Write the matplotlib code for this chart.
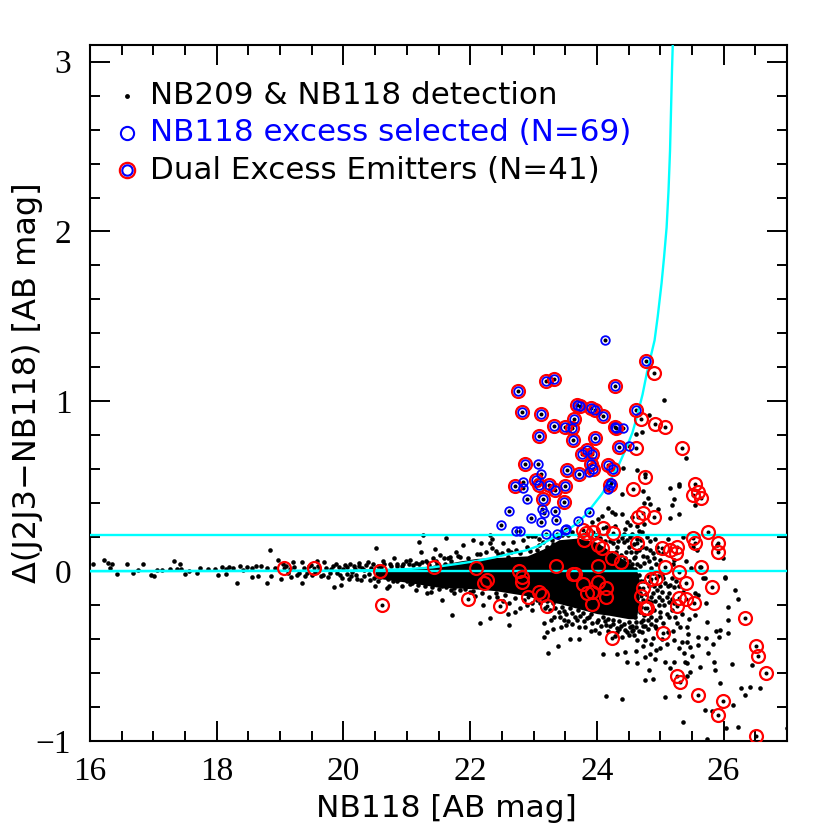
#!/usr/bin/env python3
"""NB118 excess vs NB118 magnitude, values read off the figure."""
import matplotlib
matplotlib.use('Agg')
import matplotlib.pyplot as plt
from matplotlib.ticker import MultipleLocator
import numpy as np

# NB118 excess selected, also NB209 excess (red + blue)
dual = [
    (24.78, 1.235), (24.29, 1.092), (23.32, 1.129), (23.20, 1.117), (22.75, 1.062), (22.82, 0.935),
    (23.12, 0.925), (24.62, 0.951), (23.69, 0.978), (23.73, 0.970), (23.90, 0.960), (23.97, 0.947),
    (24.10, 0.911), (23.64, 0.898), (23.32, 0.854), (23.50, 0.847), (23.60, 0.843), (24.29, 0.849),
    (24.30, 0.845), (23.09, 0.796), (23.97, 0.786), (23.63, 0.770), (24.35, 0.729), (23.85, 0.715),
    (23.77, 0.692), (23.93, 0.690), (23.91, 0.633), (22.86, 0.633), (23.53, 0.596), (23.71, 0.574),
    (23.94, 0.600), (24.18, 0.623), (24.25, 0.603), (24.21, 0.505), (23.04, 0.535), (22.71, 0.500),
    (23.25, 0.505), (23.34, 0.478), (23.50, 0.501), (23.08, 0.509), (23.15, 0.425), (23.48, 0.407),
]

# NB118 excess selected only (blue)
blue_only = [
    (24.12, 1.360), (24.41, 0.841), (24.50, 0.735), (23.07, 0.631), (23.11, 0.572), (22.83, 0.527),
    (22.83, 0.490), (24.23, 0.519), (24.17, 0.486), (22.89, 0.425), (23.88, 0.584), (22.61, 0.356),
    (23.14, 0.368), (23.17, 0.343), (23.34, 0.352), (23.88, 0.350), (22.96, 0.313), (23.12, 0.288),
    (23.36, 0.303), (23.70, 0.298), (22.48, 0.270), (22.73, 0.235), (22.79, 0.235), (23.19, 0.217),
    (23.37, 0.221), (23.50, 0.241), (23.52, 0.247),
]

# NB209 excess only (red)
red_only = [
    (24.90, 1.168), (24.69, 0.894), (24.91, 0.864), (25.08, 0.851), (24.61, 0.727), (25.34, 0.725),
    (24.76, 0.554), (24.57, 0.484), (25.55, 0.515), (25.52, 0.447), (25.60, 0.466), (25.64, 0.433),
    (24.65, 0.316), (24.73, 0.340), (24.90, 0.320), (23.78, 0.242), (24.10, 0.257), (23.94, 0.228),
    (24.26, 0.222), (23.83, 0.222), (23.79, 0.183), (24.01, 0.153), (24.08, 0.138), (24.63, 0.163),
    (25.02, 0.138), (25.15, 0.124), (25.26, 0.143), (25.25, 0.104), (25.51, 0.193), (25.55, 0.163),
    (25.76, 0.228), (25.91, 0.163), (25.91, 0.110), (25.64, 0.026), (25.08, 0.026), (25.29, -0.007),
    (25.41, -0.072), (25.81, -0.092), (24.24, 0.075), (24.38, 0.055), (24.01, 0.032), (23.35, 0.032),
    (22.09, 0.018), (22.77, 0.000), (23.63, -0.017), (23.65, -0.017), (22.81, -0.037), (22.81, -0.066),
    (22.26, -0.053), (22.22, -0.068), (24.01, -0.066), (23.78, -0.076), (24.15, -0.102), (23.93, -0.121),
    (23.85, -0.131), (24.15, -0.151), (23.92, -0.194), (23.09, -0.125), (23.14, -0.141), (22.91, -0.151),
    (23.22, -0.206), (22.47, -0.206), (21.97, -0.162), (24.94, -0.043), (24.86, -0.049), (24.73, -0.102),
    (24.70, -0.145), (24.79, -0.219), (24.76, -0.219), (25.30, -0.160), (25.41, -0.164), (25.27, -0.206),
    (25.53, -0.190), (25.04, -0.362), (24.24, -0.392), (26.34, -0.278), (26.51, -0.441), (26.55, -0.500),
    (26.67, -0.600), (25.26, -0.615), (25.31, -0.653), (25.59, -0.731), (25.99, -0.762), (25.91, -0.847),
    (26.51, -0.970), (19.06, 0.020), (19.53, 0.020), (20.57, 0.002), (20.61, -0.202), (21.43, 0.026),
]

# black detections, by region of the plot
dots_tail = [
    (16.04, .045), (16.22, .065), (16.29, .050), (16.34, .045), (16.31, .016), (16.42, -.017), (16.59, .045),
    (16.68, -.010), (16.76, .006), (16.84, .042), (16.97, -.025), (17.01, -.027), (17.06, .006), (17.13, .006),
    (17.27, .012), (17.32, .059), (17.42, .045), (17.37, .012), (17.44, .010), (17.50, -.019), (17.57, .002),
    (17.69, -.010), (17.74, .016), (17.87, .010), (17.97, .010), (18.02, -.025), (18.08, .026), (18.15, -.017),
    (18.15, .010), (18.20, .022), (18.26, .016), (18.32, -.068), (18.36, .032), (18.42, .008), (18.47, .026),
    (18.55, .016), (18.55, -.037), (18.62, .028), (18.65, -.029), (18.70, .030), (18.79, .016), (18.79, -.068),
    (18.84, .124), (18.86, -.029), (18.92, .020), (18.97, .065), (19.01, -.049), (19.05, .045), (19.12, -.012),
    (19.18, -.033), (19.21, .055), (19.26, -.020), (19.34, -.068), (19.34, .055), (19.40, -.030), (19.45, .030),
    (19.50, -.025), (19.58, .060), (19.62, .006), (19.68, -.020), (19.70, .055), (19.75, -.035), (19.80, .010),
    (19.85, -.095), (19.88, .040), (19.95, -.020), (19.96, -.080), (20.02, .035), (20.05, -.015), (20.10, .045),
    (20.12, -.030), (20.18, .015), (20.22, -.045), (20.25, .050), (20.30, .020), (20.33, -.030), (20.38, .055),
    (20.42, -.050), (20.46, .045), (20.52, .135), (20.50, -.085), (20.55, -.055), (20.62, .060), (20.68, -.100),
    (20.72, -.085), (20.80, .080), (20.85, .045), (20.85, -.060), (20.92, -.090), (20.98, .060), (21.05, .065),
    (21.05, -.075), (21.15, -.110), (21.20, .170), (21.22, .115), (21.25, .215), (21.30, .060), (21.32, -.130),
    (21.38, -.125), (21.42, .080), (21.45, .130), (21.52, .095), (21.55, -.090), (21.55, -.170), (21.62, .195),
    (21.65, .075), (21.70, -.110), (21.75, -.130), (21.78, .115), (21.72, -.260),
]

dots_top = [
    (25.06, 1.005), (24.82, .917), (24.71, .819), (24.62, .809), (25.40, .668), (24.41, .609), (24.64, .594),
    (24.76, .574), (25.16, .490), (25.29, .515), (25.29, .501), (24.39, .456), (24.73, .470), (24.81, .433),
    (25.21, .423), (25.18, .392), (24.74, .401), (24.83, .394), (25.55, .392), (24.97, .368), (24.17, .374),
    (24.24, .349), (24.29, .335), (24.40, .335), (24.08, .323), (25.30, .335), (25.16, .315), (24.47, .290),
    (24.55, .319), (24.52, .270), (24.02, .305), (23.92, .290), (24.63, .266), (24.75, .280), (24.71, .231),
    (24.44, .250), (24.29, .264), (24.15, .260), (22.31, .211), (22.05, .182), (21.89, .152), (22.17, .166),
    (22.34, .192), (22.32, .166), (22.34, .137), (22.52, .166), (22.59, .127), (22.68, .172), (22.84, .182),
    (22.91, .205), (22.97, .205), (23.02, .205), (23.08, .192), (22.59, .084), (22.44, .103), (22.16, .103),
    (21.84, .084), (21.97, .080), (22.26, .068), (22.73, .123), (22.89, .143), (23.08, .152), (23.15, .172),
    (23.29, .182), (24.42, .221), (24.52, .201), (24.63, .192), (24.79, .201), (24.42, .170), (24.50, .145),
    (24.58, .160), (24.71, .145), (24.84, .125), (24.95, .145), (24.79, .085), (24.58, .075), (25.00, .065),
    (25.21, .065), (25.36, .201), (25.90, .156), (25.99, .080), (25.63, .025), (25.71, -.038), (26.02, -.038),
    (25.52, .145), (25.58, .125), (24.46, .110), (24.55, .045), (24.62, .110), (24.68, .030), (24.75, .050),
    (24.85, .020), (24.90, .075), (25.05, .105), (25.12, .190), (25.20, .040), (25.40, .060), (25.48, .020),
    (23.45, .215), (23.60, .230), (23.72, .215), (23.90, .195), (24.05, .195), (24.20, .175), (24.32, .140),
]

dots_low = [
    (26.02, -.037), (26.18, -.111), (26.23, -.162), (26.07, -.213), (26.07, -.288), (26.07, -.366), (25.94, -.347),
    (25.88, -.350), (25.93, -.386), (25.84, -.429), (25.76, -.484), (25.85, -.537), (25.86, -.582), (26.13, -.547),
    (25.94, -.660), (26.28, -.690), (26.42, -.684), (26.57, -.686), (26.34, -.729), (26.44, -.553), (26.14, -.788),
    (25.71, -.817), (25.81, -.823), (25.36, -.888), (26.03, -.925), (26.22, -.915), (25.74, -.988), (27.00, -.925),
    (24.14, -.735), (24.39, -.755), (25.07, -.743), (25.29, -.733), (24.76, -.641), (24.89, -.637), (24.82, -.582),
    (25.63, -.566), (25.47, -.592), (25.42, -.543), (25.39, -.533), (25.07, -.533), (25.21, -.533), (25.15, -.572),
    (25.42, -.620), (24.47, -.533), (24.63, -.543), (24.92, -.519), (24.76, -.508), (24.32, -.490), (24.45, -.478),
    (24.10, -.488), (23.23, -.484), (23.38, -.439), (23.58, -.400), (23.72, -.400), (23.16, -.386), (23.22, -.357),
    (23.30, -.343), (23.44, -.327), (23.52, -.317), (23.55, -.292), (23.16, -.307), (22.62, -.317), (22.15, -.307),
    (22.32, -.278), (22.60, -.255), (22.20, -.200), (22.71, -.239), (22.79, -.215), (23.33, -.268), (23.42, -.272),
    (23.65, -.268), (23.81, -.327), (23.97, -.347), (23.84, -.278), (24.15, -.317), (24.31, -.337), (24.47, -.357),
    (24.58, -.376), (24.63, -.406), (24.71, -.357), (24.76, -.406), (24.89, -.396), (24.94, -.464), (25.00, -.455),
    (24.84, -.490), (25.26, -.307), (25.31, -.327), (25.21, -.406), (25.34, -.415), (25.42, -.415), (25.47, -.445),
    (25.60, -.386), (25.72, -.396), (25.60, -.435), (25.42, -.327), (25.73, -.298), (25.55, -.259), (25.13, -.268),
    (25.00, -.268), (25.05, -.307), (24.94, -.337), (25.18, -.229), (25.10, -.151), (25.21, -.096), (25.55, -.131),
    (25.60, -.141), (25.68, -.043), (25.72, -.190), (25.35, -.250), (25.45, -.280), (25.25, -.060), (25.18, -.040),
]

dots_edge = [
    (24.66, -.020), (24.70, -.060), (24.66, -.100), (24.72, -.170), (24.66, -.190), (24.68, -.240), (24.75, -.260),
    (24.80, -.290), (24.85, -.180), (24.90, -.230), (24.95, -.110), (25.00, -.090), (25.02, -.170), (24.82, -.090),
    (24.88, -.130), (24.98, -.200), (25.05, -.040), (25.12, -.090), (25.14, -.180), (24.80, -.030), (24.88, -.010),
    (24.62, -.300), (24.55, -.320), (24.50, -.300), (24.42, -.310), (24.35, -.295), (24.25, -.290), (24.18, -.280),
    (24.10, -.270), (24.02, -.285), (23.90, -.250), (23.78, -.245), (23.70, -.230), (23.58, -.215), (23.45, -.210),
    (23.30, -.190), (23.22, -.175), (23.05, -.170), (22.98, -.190), (22.85, -.170), (22.70, -.160), (22.55, -.140),
    (22.40, -.130), (22.30, -.150), (22.18, -.130), (22.05, -.115), (21.92, -.105), (21.84, -.110), (24.35, -.340),
    (24.62, -.330), (24.72, -.320), (24.55, -.350), (24.80, -.340), (24.60, -.270), (24.72, -.290), (24.85, -.270),
    (22.10, .100), (22.25, .110), (22.40, .120), (22.50, .105), (22.65, .110), (22.78, .105), (22.95, .120),
    (23.05, .125), (23.22, .145), (23.30, .160), (23.38, .200), (23.55, .215), (24.30, .110), (24.38, .095),
    (24.44, .075), (24.50, .060), (24.55, .015), (24.60, .010), (24.48, .020), (21.60, .045), (21.70, .060),
    (21.48, .045), (21.35, .035), (21.20, .040), (21.10, .035), (20.92, .030), (20.75, .030), (20.60, .025),
    (21.55, -.060), (21.42, -.070), (21.25, -.065), (21.12, -.050), (20.95, -.040), (20.80, -.035), (20.66, -.025),
]

# second pass over the parts that looked too thin
dots_fill_tail = [
    (19.10, .030), (19.15, .010), (19.22, .022), (19.30, -.008), (19.37, .018), (19.42, -.012), (19.48, .038),
    (19.55, -.006), (19.60, .032), (19.65, -.030), (19.72, .020), (19.78, -.012), (19.83, .030), (19.90, -.008),
    (19.93, .022), (19.98, -.040), (20.00, .012), (20.06, .025), (20.08, -.045), (20.14, -.006), (20.16, .028),
    (20.20, -.020), (20.24, .030), (20.28, -.050), (20.32, .006), (20.36, .035), (20.40, -.018), (20.44, .020),
    (20.48, -.040), (20.54, .030), (20.58, -.032), (20.64, .040), (20.70, -.048), (20.74, .045), (20.78, -.060),
    (20.84, .030), (20.88, -.045), (20.94, .045), (21.00, -.060), (21.04, .042), (21.08, -.068), (21.14, .050),
    (21.18, -.080), (21.24, .055), (21.28, -.090), (21.34, .050), (21.40, -.095), (21.46, .062), (21.50, -.105),
    (21.58, .080), (21.62, -.095), (21.68, .085), (21.74, -.100), (21.80, .090),
]

dots_fill_right = [
    (24.64, .040), (24.60, .085), (24.54, .110), (24.66, .125), (24.72, .090), (24.78, .135), (24.82, .060),
    (24.88, .105), (24.93, .040), (24.97, .115), (24.70, .185), (24.48, .185), (24.56, .220), (24.66, .235),
    (24.84, .175), (24.92, .190), (24.40, .195), (24.34, .180), (24.26, .165), (24.12, .180), (23.98, .210),
    (24.64, -.050), (24.68, -.130), (24.64, -.160), (24.70, -.210), (24.74, -.060), (24.77, -.135), (24.80, -.175),
    (24.83, -.240), (24.84, -.060), (24.86, -.150), (24.90, -.090), (24.92, -.175), (24.93, -.290), (24.96, -.030),
    (24.98, -.150), (25.00, -.240), (25.03, -.120), (25.06, -.200), (25.08, -.070), (25.10, -.250), (25.13, -.130),
    (25.16, -.080), (25.18, -.165), (25.22, -.190), (25.24, -.270), (25.03, -.020), (25.30, -.090), (25.36, -.120),
]

dots_fill_low = [
    (23.10, -.190), (23.18, -.215), (23.26, -.230), (23.34, -.215), (23.40, -.240), (23.48, -.235), (23.52, -.255),
    (23.60, -.245), (23.68, -.285), (23.74, -.265), (23.80, -.295), (23.88, -.270), (23.92, -.305), (24.00, -.300),
    (24.06, -.320), (24.12, -.295), (24.20, -.325), (24.26, -.310), (24.32, -.360), (24.38, -.325), (24.44, -.345),
    (24.52, -.330), (24.57, -.345), (24.66, -.350), (24.70, -.300), (24.76, -.320), (24.86, -.310), (24.92, -.325),
    (24.50, -.375), (24.40, -.385), (24.28, -.380), (24.18, -.350), (24.04, -.365), (23.90, -.355), (23.72, -.330),
    (23.60, -.310), (23.48, -.290), (23.28, -.290), (22.98, -.230), (22.90, -.200), (22.62, -.190), (22.52, -.175),
    (22.42, -.155), (22.08, -.145), (22.00, -.125), (24.85, -.430), (24.72, -.440), (24.62, -.470), (25.10, -.430),
    (25.12, -.360), (25.20, -.350), (25.02, -.400), (25.50, -.500), (25.38, -.480), (25.44, -.370), (25.30, -.450),
]

# solid black core of the cloud, where single points can't be told apart
core_x = [20.5, 21.0, 21.5, 21.84, 22.1, 22.4, 22.9, 23.15, 23.4, 23.7, 24.0, 24.2, 24.5, 24.62, 24.66]
core_hi = [.010, .016, .036, .060, .075, .080, .090, .130, .185, .195, .170, .120, .050, .010, -.030]
core_lo = [-.040, -.065, -.095, -.100, -.105, -.115, -.145, -.175, -.190, -.220, -.250, -.260, -.280, -.280, -.200]

# selection curve
curve_x = [16.0, 18.0, 20.0, 20.5, 21.0, 21.4, 21.84, 22.1, 22.37, 22.6, 22.89, 23.1, 23.37, 23.55, 23.68, 23.82,
           23.94, 24.08, 24.21, 24.35, 24.47, 24.56, 24.63, 24.72, 24.79, 24.86, 24.91, 24.96, 25.02, 25.06, 25.10, 25.13, 25.154, 25.185, 25.197]
curve_y = [0.0, .001, .003, .006, .012, .022, .045, .060, .080, .100, .123, .152, .211, .245, .280, .330,
           .388, .455, .535, .630, .731, .815, .907, 1.04, 1.17, 1.28, 1.359, 1.50, 1.694, 1.85, 2.024, 2.24, 2.476, 2.947, 3.1]
cut_lines = [0.0, 0.214]

legend_labels = ['NB209 & NB118 detection', 'NB118 excess selected (N=69)', 'Dual Excess Emitters (N=41)']
xticks = [16, 18, 20, 22, 24, 26]
yticks = [-1, 0, 1, 2, 3]


def xy(points):
    arr = np.array(points)
    return arr[:, 0], arr[:, 1]


fig = plt.figure(figsize=(8.3, 8.3), dpi=100)
ax = fig.add_axes([90 / 830, 89 / 830, 697 / 830, 696 / 830])
ax.set_xlim(16, 27)
ax.set_ylim(-1, 3.098)

ax.fill_between(core_x, core_lo, core_hi, color='black', lw=0, zorder=2)
for pts in [dots_tail, dots_top, dots_low, dots_edge, dots_fill_tail, dots_fill_right, dots_fill_low]:
    x, y = xy(pts)
    ax.plot(x, y, 'o', color='black', ms=3.3, mew=0, zorder=2)
for pts in [dual, blue_only, red_only]:
    x, y = xy(pts)
    ax.plot(x, y, 'o', color='black', ms=2.9, mew=0, zorder=2)

for level in cut_lines:
    ax.axhline(level, color='#00ffff', lw=1.7, zorder=3)
ax.plot(curve_x, curve_y, color='#00ffff', lw=1.7, zorder=3)

for pts in [red_only, dual]:
    x, y = xy(pts)
    ax.plot(x, y, 'o', mfc='none', mec='#ff0000', ms=9.3, mew=1.6, zorder=4)
for pts in [dual, blue_only]:
    x, y = xy(pts)
    ax.plot(x, y, 'o', mfc='none', mec='#0000ff', ms=6.2, mew=1.3, zorder=5)

# hand-made legend
ax.plot(16.58, 2.80, 'o', color='black', ms=3.5, mew=0)
ax.plot(16.58, 2.58, 'o', mfc='none', mec='#0000ff', ms=9.5, mew=1.5)
ax.plot(16.58, 2.36, 'o', mfc='none', mec='#ff0000', ms=11.0, mew=1.6)
ax.plot(16.58, 2.36, 'o', mfc='none', mec='#0000ff', ms=7.5, mew=1.5)
legend_y = [2.80, 2.58, 2.36]
legend_colors = ['black', '#0000ff', 'black']
for label, ly, col in zip(legend_labels, legend_y, legend_colors):
    ax.text(16.95, ly, label, color=col, fontsize=22.3, va='center', ha='left', family='DejaVu Sans')

ax.set_xticks(xticks)
ax.set_yticks(yticks)
ax.xaxis.set_minor_locator(MultipleLocator(0.5))
ax.yaxis.set_minor_locator(MultipleLocator(0.2))
ax.tick_params(which='major', direction='in', length=14.4, width=1.4, top=True, right=True,
               labelsize=24, labelfontfamily='Liberation Serif')
ax.tick_params(axis='x', which='major', pad=11)
ax.tick_params(axis='y', which='major', pad=13.5)
ax.tick_params(which='minor', direction='in', length=7.2, width=1.4, top=True, right=True)
ax.set_yticklabels(['\u22121', '0', '1', '2', '3'])
for spine in ax.spines.values():
    spine.set_linewidth(1.5)

fig.text(446 / 830, 1 - 808 / 830, 'NB118 [AB mag]', fontsize=22.5, ha='center', va='center')
fig.text(28 / 830, 1 - 383 / 830, '\u0394(J2J3\u2212NB118) [AB mag]', fontsize=23, rotation=90, ha='center', va='center')

fig.savefig('out.png', dpi=100)
